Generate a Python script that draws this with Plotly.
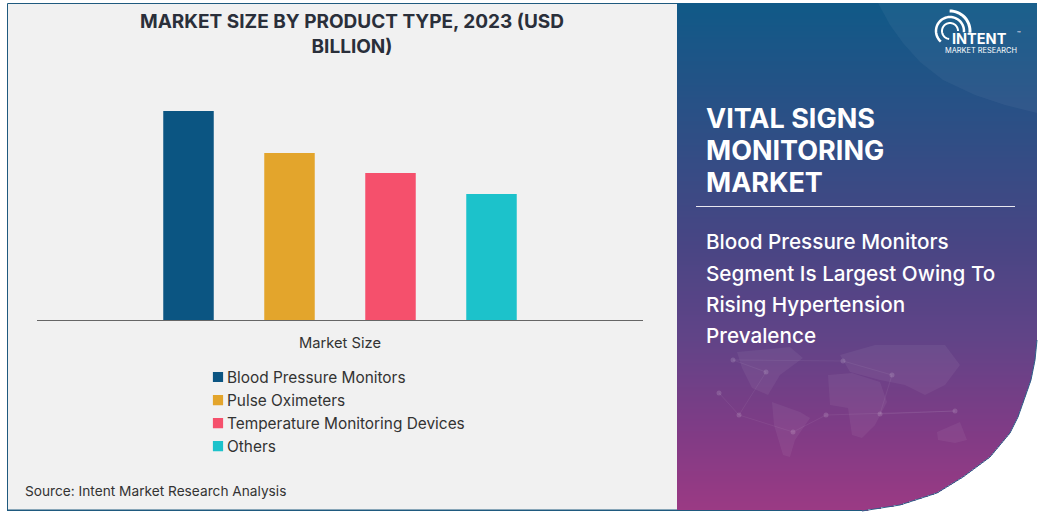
import math
import numpy as np
import plotly.graph_objects as go

W, H = 1043, 513
categories = ["Market Size"]
series_names = ["Blood Pressure Monitors", "Pulse Oximeters", "Temperature Monitoring Devices", "Others"]
series_values = [2.09, 1.67, 1.47, 1.26]
series_colors = ["#0b5582", "#e3a52c", "#f5506c", "#1cc2cb"]

FONT = "Inter"
def px(x): return x / W
def py(y): return 1 - y / H

shapes = []
def rect(x0, y0, x1, y1, fill, line=None, lw=0, layer="below", op=1):
    shapes.append(dict(type="rect", xref="paper", yref="paper", x0=px(x0), x1=px(x1), y0=py(y1), y1=py(y0),
                       fillcolor=fill, line=dict(color=line or fill, width=lw), layer=layer, opacity=op))
def path(pts, fill=None, line=None, lw=0, close=True, op=1):
    d = "M" + " L".join(f"{px(a):.5f},{py(b):.5f}" for a, b in pts) + (" Z" if close else "")
    shapes.append(dict(type="path", xref="paper", yref="paper", path=d, fillcolor=fill or "rgba(0,0,0,0)",
                       line=dict(color=line or "rgba(0,0,0,0)", width=lw), layer="below", opacity=op))

# card background + border (left part only; the corner right of the panel stays white)
rect(7.5, 3.5, 680, 510, "#f1f1f1", "#1f5a7f", 1)

# right panel: vertical gradient clipped by the rounded corner
edge_y = [0, 340, 360, 380, 400, 417, 433, 457, 477, 493, 505, 511]
edge_x = [1037, 1037, 1035, 1031, 1024, 1018, 1010, 990, 963, 937, 900, 862]
stops_y = [0, 120, 240, 340, 430, 511]
stops = [(16, 90, 136), (44, 80, 134), (72, 70, 132), (98, 68, 136), (128, 60, 134), (156, 58, 132)]
rect(677, 3, 1040, 511, "#ffffff")
for y in range(3, 511, 2):
    xe = float(np.interp(y + 1, edge_y, edge_x))
    c = [int(np.interp(y, stops_y, [s[i] for s in stops])) for i in range(3)]
    rect(677, y, xe, y + 2, f"rgb({c[0]},{c[1]},{c[2]})")
path([(xx, yy) for yy, xx in zip(edge_y[1:], edge_x[1:])], line="#2f5f8a", lw=1, close=False)
rect(7, 510, 862, 511, "#1f5a7f")

# lighter swoosh at the panel's top right
swoosh = [(878, 3), (890, 25), (903, 43), (920, 62), (943, 80), (975, 95), (1005, 105), (1037, 113), (1037, 3)]
path(swoosh, fill="rgba(255,255,255,0.045)")

# faint world map and network dots
lands = [
    [(737, 352), (790, 347), (803, 358), (780, 375), (768, 395), (752, 388), (742, 368)],
    [(772, 402), (800, 412), (810, 418), (795, 440), (790, 457), (783, 455), (774, 425)],
    [(828, 375), (852, 373), (880, 382), (887, 402), (875, 425), (862, 438), (852, 435), (848, 408), (830, 405)],
    [(840, 355), (875, 345), (945, 345), (960, 365), (945, 385), (925, 395), (905, 385), (880, 380), (850, 372)],
    [(937, 432), (960, 422), (967, 440), (955, 443), (938, 440)],
]
for land in lands:
    path(land, fill="rgba(255,255,255,0.055)")
nodes = [(719, 393), (739, 415), (766, 372), (733, 360), (843, 361), (892, 375), (880, 414), (955, 411), (826, 415), (793, 432), (739, 415)]
for a in range(len(nodes) - 1):
    path([nodes[a], nodes[a + 1]], line="rgba(255,255,255,0.06)", lw=1, close=False)
for (a, b) in nodes[:-1]:
    shapes.append(dict(type="circle", xref="paper", yref="paper", x0=px(a - 2.5), x1=px(a + 2.5), y0=py(b + 2.5), y1=py(b - 2.5),
                       fillcolor="rgba(255,255,255,0.14)", line=dict(width=0), layer="below"))

# divider line
rect(696, 206, 1015, 207, "#e8e8f0")

# logo arcs
cx, cy = 950, 31
for r, w, a0, a1 in [(20, 3, -5, 95), (14, 2.5, -5, 235), (8, 2, 0, 270)]:
    path([(cx + r * math.cos(math.radians(t)), cy - r * math.sin(math.radians(t))) for t in range(a0, a1, 6)],
         line="#ffffff", lw=w, close=False)

anns = []
def text(x, y, s, size, color="#ffffff", weight=400, anchor="left", family=FONT):
    anns.append(dict(xref="paper", yref="paper", x=px(x), y=py(y), text=s, showarrow=False, xanchor=anchor, yanchor="middle",
                     font=dict(family=family, size=size, color=color, weight=weight), align="left"))

for y, s in zip([119, 151, 183], ["VITAL SIGNS", "MONITORING", "MARKET"]):
    text(704, y, s, 27, weight=700)
for y, s in zip([241, 273, 304, 335], ["Blood Pressure Monitors", "Segment Is Largest Owing To", "Rising Hypertension", "Prevalence"]):
    text(704, y, s, 20.7, weight=500)
text(23, 491, "Source: Intent Market Research Analysis", 13.7, color="#333333")
text(950, 39, "INTENT", 14.5, weight=700)
text(943, 51, "MARKET RESEARCH", 7.4)
text(1015, 33, "™", 6)

fig = go.Figure()
for name, val, col in zip(series_names, series_values, series_colors):
    fig.add_trace(go.Bar(x=categories, y=[val], name=name, marker=dict(color=col, line=dict(width=0)), legendgroup=name))

fig.update_layout(
    width=W, height=H, autosize=False,
    margin=dict(l=0, r=0, t=0, b=0),
    paper_bgcolor="#ffffff", plot_bgcolor="rgba(0,0,0,0)",
    barmode="group", bargap=1 / 3, bargroupgap=0.5,
    showlegend=True,
    font=dict(family=FONT, color="#333333"),
    title=dict(text="MARKET SIZE BY PRODUCT TYPE, 2023 (USD<br>BILLION)", x=352 / W, xanchor="center", xref="paper",
               yref="container", y=1 - 28 / H, yanchor="top", font=dict(family=FONT, size=19, color="#2a2f3a", weight=700)),
    legend=dict(orientation="v", x=187 / W, xanchor="left", y=py(360.5), yanchor="top",
                traceorder="normal", tracegroupgap=5, font=dict(size=15.4, color="#333333"), bgcolor="rgba(0,0,0,0)"),
    xaxis=dict(domain=[37 / W, 643 / W], showline=True, linecolor="#666666", linewidth=1, ticks="", ticklabelstandoff=9,
               tickfont=dict(size=14.7, color="#333333")),
    yaxis=dict(domain=[py(320), py(60)], visible=False, range=[0, 2.6]),
    shapes=shapes, annotations=anns,
)
post = """document.body.style.margin='0';
document.querySelectorAll('.legendsymbols').forEach(function(g){g.setAttribute('transform','translate(14,0) scale(0.85)');});"""
fig.write_html("out.html", post_script=post, config=dict(displayModeBar=False))
